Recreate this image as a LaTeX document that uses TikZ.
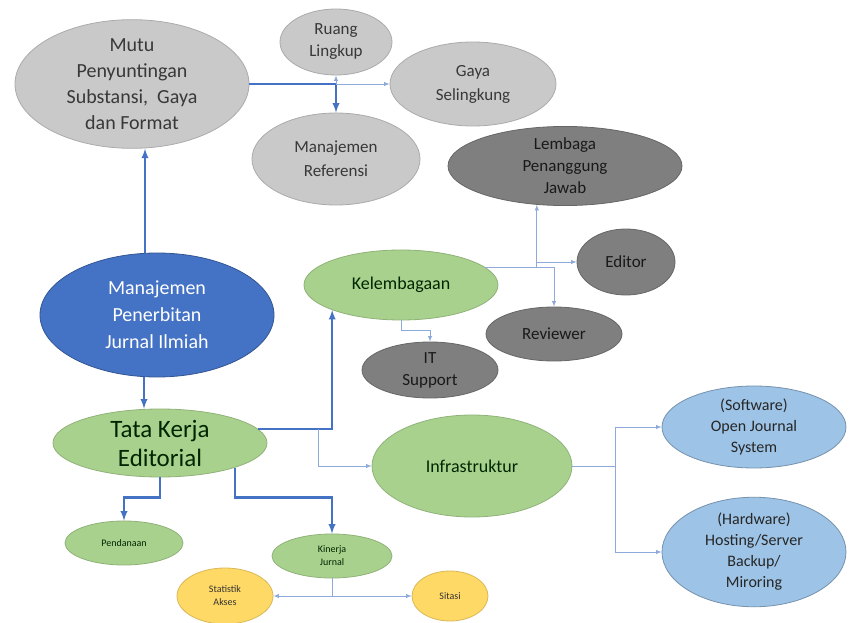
\documentclass[tikz,border=0pt]{standalone}
\usepackage{fontspec}
\setmainfont{Carlito}
\usetikzlibrary{shapes.geometric}

\definecolor{lgrey}{HTML}{C9C9C9}
\definecolor{dgrey}{HTML}{7F7F7F}
\definecolor{mainblue}{HTML}{4472C4}
\definecolor{lgreen}{HTML}{A9D18E}
\definecolor{lblue}{HTML}{9DC3E6}
\definecolor{lorange}{HTML}{FFD966}
\definecolor{thinblue}{HTML}{8EA9DB}

\tikzset{
	bubble/.style={ellipse,inner sep=0pt,align=center,line width=0.8pt},
	greybub/.style={bubble,fill=lgrey,draw=lgrey!85!black,text=black!78},
	darkbub/.style={bubble,fill=dgrey,draw=dgrey!80!black,text=black!90},
	mainbub/.style={bubble,fill=mainblue,draw=mainblue!75!black,text=white},
	greenbub/.style={bubble,fill=lgreen,draw=lgreen!85!black,text=black!85!green},
	bluebub/.style={bubble,fill=lblue,draw=lblue!75!black,text=black!85},
	orangebub/.style={bubble,fill=lorange,draw=lorange!85!black,text=black!80},
	thickarrow/.style={->,>=latex,draw=mainblue,line width=2.2pt},
	thinarrow/.style={->,>=latex,draw=thinblue,line width=0.9pt}
}

\begin{document}
\begin{tikzpicture}[x=1pt,y=-1pt]
		\useasboundingbox[fill=white] (0,0) rectangle (854,623);
		% top group
		\node[greybub,minimum width=234,minimum height=114,font=\fontsize{20}{26}\selectfont] (mutu) at (132,84) {Mutu\\Penyuntingan\\Substansi,~ Gaya\\dan Format};
		\node[greybub,minimum width=112,minimum height=66,font=\fontsize{17}{22}\selectfont] (ruang) at (336,42) {Ruang\\Lingkup};
		\node[greybub,minimum width=166,minimum height=84,font=\fontsize{17}{24}\selectfont] (gaya) at (473,84) {Gaya\\Selingkung};
		\node[greybub,minimum width=168,minimum height=92,font=\fontsize{17}{24}\selectfont] (referensi) at (336,159) {Manajemen\\Referensi};
		% kelembagaan group
		\node[darkbub,minimum width=234,minimum height=76,font=\fontsize{17}{22}\selectfont] (lembaga) at (565,166) {Lembaga\\Penanggung\\Jawab};
		\node[darkbub,minimum width=98,minimum height=66,font=\fontsize{17}{22}\selectfont] (editor) at (626,262) {Editor};
		\node[greenbub,minimum width=194,minimum height=70,font=\fontsize{18}{22}\selectfont] (kelembagaan) at (401,285) {Kelembagaan};
		\node[darkbub,minimum width=136,minimum height=54,font=\fontsize{17}{22}\selectfont] (reviewer) at (554,334) {Reviewer};
		\node[darkbub,minimum width=136,minimum height=56,font=\fontsize{17}{22}\selectfont] (itsupport) at (430,370) {IT\\Support};
		% main
		\node[mainbub,minimum width=234,minimum height=124,font=\fontsize{20}{27}\selectfont] (penerbitan) at (157,315) {Manajemen\\Penerbitan\\Jurnal Ilmiah};
		\node[greenbub,minimum width=214,minimum height=68,font=\fontsize{25}{29}\selectfont] (tata) at (160,443) {Tata Kerja\\Editorial};
		% infrastruktur group
		\node[greenbub,minimum width=200,minimum height=102,font=\fontsize{18}{22}\selectfont] (infra) at (472,466) {Infrastruktur};
		\node[bluebub,minimum width=184,minimum height=82,font=\fontsize{16}{21}\selectfont] (software) at (754,427) {(Software)\\Open Journal\\System};
		\node[bluebub,minimum width=184,minimum height=90,font=\fontsize{16}{21}\selectfont] (hardware) at (754,552) {(Hardware)\\Hosting/Server\\Backup/\\Miroring};
		% bottom group
		\node[greenbub,minimum width=118,minimum height=44,font=\fontsize{10}{13}\selectfont] (pendanaan) at (124,543) {Pendanaan};
		\node[greenbub,minimum width=120,minimum height=44,font=\fontsize{10}{13}\selectfont] (kinerja) at (332,556) {Kinerja\\Jurnal};
		\node[orangebub,minimum width=96,minimum height=56,font=\fontsize{10}{13}\selectfont] (statistik) at (225,596) {Statistik\\Akses};
		\node[orangebub,minimum width=76,minimum height=50,font=\fontsize{10}{13}\selectfont] (sitasi) at (450,596) {Sitasi};

		% connectors
		\draw[thickarrow] ([xshift=-12]penerbitan.north) -- ([xshift=13]mutu.south);
		\draw[thickarrow] ([xshift=-13]penerbitan.south) -- ([xshift=-16]tata.north);
		\draw[thickarrow] (mutu.east) -| (referensi.north);
		\draw[thinarrow] (referensi.north |- mutu.east) -- (ruang.south);
		\draw[thinarrow] (referensi.north |- mutu.east) -- (gaya.west);
		\draw[thickarrow] (tata.8) -| (kelembagaan.200);
		\draw[thinarrow] ([xshift=60]tata.8) |- (infra.west);
		\draw[thickarrow] (tata.south) -- ++(0,20) -| (pendanaan.north);
		\draw[thickarrow] (tata.342) -- ++(0,30) -| (kinerja.north);
		\draw[thinarrow] (kinerja.south) |- (statistik.east);
		\draw[thinarrow] (kinerja.south) |- (sitasi.west);
		\draw[thinarrow] (kelembagaan.12) -| (reviewer.north);
		\draw[thinarrow] (kelembagaan.12 -| lembaga.234) -- (lembaga.234);
		\draw[thinarrow] (lembaga.234 |- editor.west) -- (editor.west);
		\draw[thinarrow] (kelembagaan.south) -- ++(0,10) -| (itsupport.north);
		\draw[thinarrow] (infra.east) -- ++(43,0) coordinate (split) |- (software.west);
		\draw[thinarrow] (split) |- (hardware.west);
	\end{tikzpicture}
\end{document}
